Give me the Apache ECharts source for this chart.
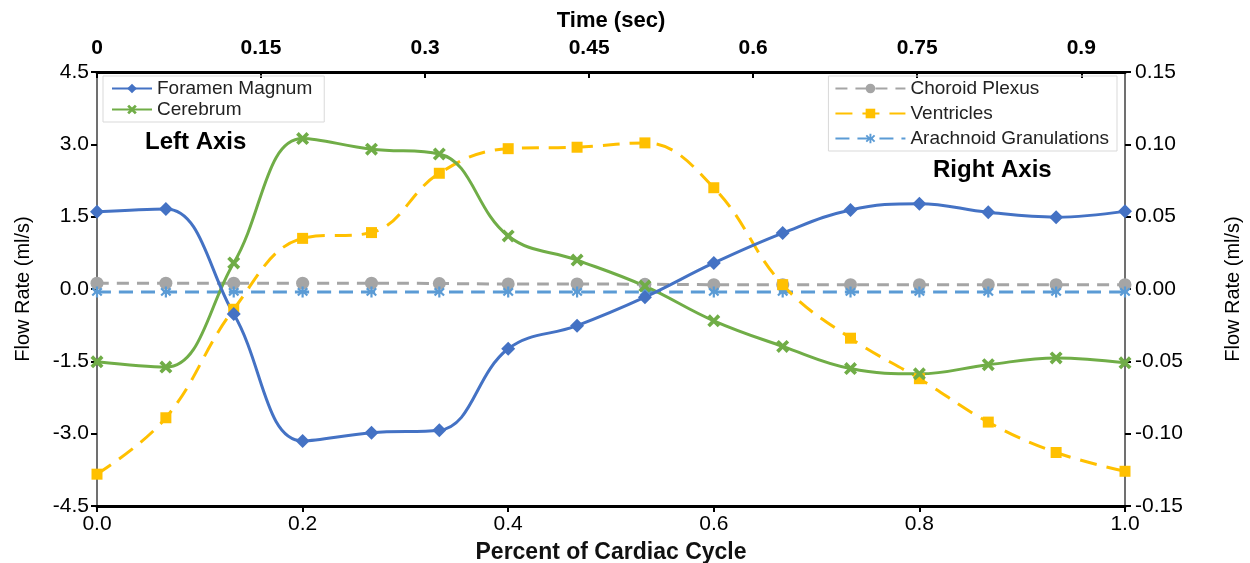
<!DOCTYPE html>
<html>
<head>
<meta charset="utf-8">
<script src="https://cdn.jsdelivr.net/npm/echarts@6/dist/echarts.min.js"></script>
<style>
  html, body { margin: 0; padding: 0; background: #fff; }
  #chart { width: 1250px; height: 563px; }
</style>
</head>
<body>
<div id="chart"></div>
<script>
// data
var cyclePct = [0, 0.067, 0.133, 0.2, 0.267, 0.333, 0.4, 0.467, 0.533, 0.6, 0.667, 0.733, 0.8, 0.867, 0.933, 1.0];
var foramenMagnum = [1.60, 1.66, -0.52, -3.15, -2.98, -2.93, -1.24, -0.76, -0.17, 0.54, 1.16, 1.64, 1.77, 1.59, 1.49, 1.61];
var cerebrum = [-1.51, -1.62, 0.54, 3.12, 2.90, 2.80, 1.10, 0.60, 0.06, -0.66, -1.19, -1.65, -1.76, -1.57, -1.43, -1.53];
var choroidPlexus = [0.004, 0.004, 0.004, 0.004, 0.004, 0.0038, 0.0035, 0.0035, 0.0033, 0.003, 0.003, 0.003, 0.003, 0.003, 0.003, 0.003];
var ventricles = [-0.128, -0.089, -0.014, 0.035, 0.039, 0.080, 0.097, 0.098, 0.101, 0.070, 0.003, -0.034, -0.062, -0.092, -0.113, -0.126];
var arachnoid = [-0.002, -0.002, -0.002, -0.002, -0.002, -0.002, -0.002, -0.002, -0.002, -0.002, -0.002, -0.002, -0.002, -0.002, -0.002, -0.002];

// axis ranges [min, max, step]
var cycleRange = [0, 1, 0.2];
var timeRange = [0, 0.94, 0.15];
var leftRange = [-4.5, 4.5, 1.5];
var rightRange = [-0.15, 0.15, 0.05];

var FONT = 'Liberation Sans, Arial, sans-serif';
var crossIcon = 'path://M2,0L5,3L8,0L10,2L7,5L10,8L8,10L5,7L2,10L0,8L3,5L0,2Z';
var starIcon = 'path://M4,0H6V3.6L8.6,1L10,2.4L7.4,5L10,7.6L8.6,9L6,6.4V10H4V6.4L1.4,9L0,7.6L2.6,5L0,2.4L1.4,1L4,3.6Z';

function pairs(vals) {
  return cyclePct.map(function (x, i) { return [x, vals[i]]; });
}

var myChart = echarts.init(document.getElementById('chart'));

var option = {
  animation: false,
  backgroundColor: '#fff',
  grid: { left: 97, right: 125, top: 72, bottom: 57, containLabel: false, outerBoundsMode: 'none' },
  legend: [
    {
      data: ['Foramen Magnum', 'Cerebrum'],
      orient: 'vertical',
      left: 103, top: 76,
      itemWidth: 40, itemHeight: 12, itemGap: 2,
      padding: [3, 12, 3, 8],
      borderColor: '#d9d9d9', borderWidth: 1,
      textStyle: { fontFamily: FONT, fontSize: 19, color: '#222' }
    },
    {
      data: ['Choroid Plexus', 'Ventricles', 'Arachnoid Granulations'],
      orient: 'vertical',
      right: 133, top: 76,
      itemWidth: 70, itemHeight: 12, itemGap: 6,
      padding: [3, 8, 3, 6],
      borderColor: '#d9d9d9', borderWidth: 1,
      textStyle: { fontFamily: FONT, fontSize: 19, color: '#222' }
    }
  ],
  graphic: [
    { type: 'text', left: 145, top: 130, style: { text: 'Left Axis', font: 'bold 24px ' + FONT, fill: '#000' } },
    { type: 'text', left: 933, top: 158, style: { text: 'Right Axis', font: 'bold 24px ' + FONT, fill: '#000' } }
  ],
  xAxis: [
    {
      type: 'value', position: 'bottom',
      min: cycleRange[0], max: cycleRange[1], interval: cycleRange[2],
      name: 'Percent of Cardiac Cycle', nameLocation: 'middle', nameGap: 35,
      nameTextStyle: { fontFamily: FONT, fontSize: 23, fontWeight: 'bold', color: '#111' },
      axisLine: { onZero: false, lineStyle: { color: '#000', width: 3 } },
      axisTick: { show: true, inside: false, length: 6, lineStyle: { color: '#000', width: 2 } },
      axisLabel: { fontFamily: FONT, fontSize: 21, color: '#000', margin: 8,
        formatter: function (v) { return v.toFixed(1); } },
      splitLine: { show: false }
    },
    {
      type: 'value', position: 'top',
      min: timeRange[0], max: timeRange[1], interval: timeRange[2],
      name: 'Time (sec)', nameLocation: 'middle', nameGap: 40,
      nameTextStyle: { fontFamily: FONT, fontSize: 22, fontWeight: 'bold', color: '#000' },
      axisLine: { onZero: false, lineStyle: { color: '#000', width: 3 } },
      axisTick: { show: true, inside: true, length: 6, lineStyle: { color: '#000', width: 2 } },
      axisLabel: { fontFamily: FONT, fontSize: 21, fontWeight: 'bold', color: '#000', margin: 13,
        showMaxLabel: false,
        formatter: function (v) { return String(+v.toFixed(2)); } },
      splitLine: { show: false }
    }
  ],
  yAxis: [
    {
      type: 'value', position: 'left',
      min: leftRange[0], max: leftRange[1], interval: leftRange[2],
      name: 'Flow Rate (ml/s)', nameLocation: 'middle', nameGap: 64,
      nameTextStyle: { fontFamily: FONT, fontSize: 20, color: '#000' },
      axisLine: { show: true, onZero: false, lineStyle: { color: '#404040', width: 1.5 } },
      axisTick: { show: true, inside: false, length: 6, lineStyle: { color: '#000', width: 2 } },
      axisLabel: { fontFamily: FONT, fontSize: 21, color: '#000', margin: 8,
        formatter: function (v) { return v.toFixed(1); } },
      splitLine: { show: false }
    },
    {
      type: 'value', position: 'right',
      min: rightRange[0], max: rightRange[1], interval: rightRange[2],
      name: 'Flow Rate (ml/s)', nameLocation: 'middle', nameGap: 98,
      nameTextStyle: { fontFamily: FONT, fontSize: 20, color: '#000' },
      axisLine: { show: true, onZero: false, lineStyle: { color: '#404040', width: 1.5 } },
      axisTick: { show: true, inside: false, length: 6, lineStyle: { color: '#000', width: 2 } },
      axisLabel: { fontFamily: FONT, fontSize: 21, color: '#000', margin: 10,
        formatter: function (v) { return v.toFixed(2); } },
      splitLine: { show: false }
    }
  ],
  series: [
    {
      name: 'Choroid Plexus', type: 'line', xAxisIndex: 0, yAxisIndex: 1,
      data: pairs(choroidPlexus), smooth: 0.4,
      symbol: 'circle', symbolSize: 13,
      itemStyle: { color: '#A5A5A5' },
      lineStyle: { color: '#A5A5A5', width: 3, type: [12, 8] }
    },
    {
      name: 'Arachnoid Granulations', type: 'line', xAxisIndex: 0, yAxisIndex: 1,
      data: pairs(arachnoid), smooth: 0.4,
      symbol: starIcon, symbolSize: 11,
      itemStyle: { color: '#5B9BD5' },
      lineStyle: { color: '#5B9BD5', width: 3, type: [14, 8] }
    },
    {
      name: 'Ventricles', type: 'line', xAxisIndex: 0, yAxisIndex: 1,
      data: pairs(ventricles), smooth: 0.4,
      symbol: 'rect', symbolSize: 11,
      itemStyle: { color: '#FFC000' },
      lineStyle: { color: '#FFC000', width: 3, type: [17, 10] }
    },
    {
      name: 'Cerebrum', type: 'line', xAxisIndex: 0, yAxisIndex: 0,
      data: pairs(cerebrum), smooth: 0.4,
      symbol: crossIcon, symbolSize: 13,
      itemStyle: { color: '#70AD47' },
      lineStyle: { color: '#70AD47', width: 3 }
    },
    {
      name: 'Foramen Magnum', type: 'line', xAxisIndex: 0, yAxisIndex: 0,
      data: pairs(foramenMagnum), smooth: 0.4,
      symbol: 'diamond', symbolSize: 14,
      itemStyle: { color: '#4472C4' },
      lineStyle: { color: '#4472C4', width: 3 }
    }
  ]
};

myChart.setOption(option);
</script>
</body>
</html>
